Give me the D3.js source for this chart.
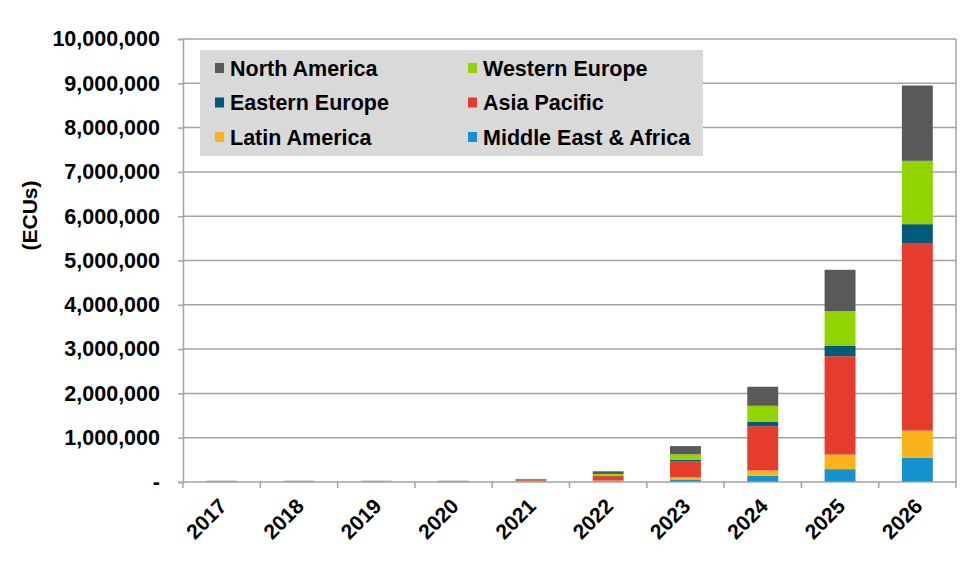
<!DOCTYPE html>
<html>
<head>
<meta charset="utf-8">
<script src="https://cdn.jsdelivr.net/npm/d3@7"></script>
<style>
  body { margin: 0; background: #fff; }
  svg text { font-family: "Liberation Sans", Arial, sans-serif; font-weight: bold; fill: #000; }
</style>
</head>
<body>
<svg id="chart" width="975" height="577"></svg>
<script>
// categories
const years = ["2017", "2018", "2019", "2020", "2021", "2022", "2023", "2024", "2025", "2026"];

// series values (ECUs)
const middleEastAfrica = [2000, 2000, 2000, 2000, 4000, 12000, 45000, 140000, 290000, 550000];
const latinAmerica     = [2000, 2000, 2000, 2000, 8000, 20000, 60000, 120000, 330000, 610000];
const asiaPacific      = [4000, 4000, 4000, 4000, 28000, 100000, 365000, 1000000, 2220000, 4220000];
const easternEurope    = [1000, 1000, 1000, 1000, 2000, 10000, 30000, 100000, 240000, 440000];
const westernEurope    = [6000, 6000, 6000, 6000, 12000, 40000, 125000, 360000, 780000, 1430000];
const northAmerica     = [12000, 12000, 12000, 12000, 16000, 60000, 185000, 430000, 930000, 1700000];

// stack order, bottom to top
const stackKeys = ["Middle East & Africa", "Latin America", "Asia Pacific", "Eastern Europe", "Western Europe", "North America"];
const seriesValues = [middleEastAfrica, latinAmerica, asiaPacific, easternEurope, westernEurope, northAmerica];

// legend order (row by row, two columns)
const legendKeys = ["North America", "Western Europe", "Eastern Europe", "Asia Pacific", "Latin America", "Middle East & Africa"];

// y ticks
const yTicks = [0, 1000000, 2000000, 3000000, 4000000, 5000000, 6000000, 7000000, 8000000, 9000000, 10000000];

const colors = {
    "North America": "#595959",
    "Western Europe": "#92d400",
    "Eastern Europe": "#005a78",
    "Asia Pacific": "#e63c2d",
    "Latin America": "#fbb31a",
    "Middle East & Africa": "#1391d0"
};

const margin = { top: 39, right: 19, bottom: 95, left: 183 };
const width = 975, height = 577;
const svg = d3.select("#chart");

// build rows for d3.stack
const table = years.map((yr, i) => {
    let row = { year: yr };
    stackKeys.forEach((k, j) => { row[k] = seriesValues[j][i]; });
    return row;
});
const stacked = d3.stack().keys(stackKeys)(table);

const x = d3.scaleBand()
    .domain(years)
    .range([margin.left, width - margin.right])
    .paddingInner(0.6)
    .paddingOuter(0.3);

const y = d3.scaleLinear()
    .domain([0, 10000000])
    .range([height - margin.bottom, margin.top]);

const gridColor = "#a3a3a3";

// gridlines
svg.append("g")
    .selectAll("line")
    .data(yTicks.filter(d => d > 0))
    .join("line")
    .attr("x1", margin.left)
    .attr("x2", width - margin.right)
    .attr("y1", d => y(d))
    .attr("y2", d => y(d))
    .attr("stroke", gridColor)
    .attr("stroke-width", 1.5);

// right border of plot
svg.append("line")
    .attr("x1", width - margin.right).attr("x2", width - margin.right)
    .attr("y1", y(10000000)).attr("y2", y(0))
    .attr("stroke", gridColor)
    .attr("stroke-width", 1.5);

// bars
svg.append("g")
    .selectAll("g")
    .data(stacked)
    .join("g")
    .attr("fill", d => colors[d.key])
    .selectAll("rect")
    .data(d => d)
    .join("rect")
    .attr("x", d => x(d.data.year))
    .attr("width", x.bandwidth())
    .attr("y", d => y(d[1]))
    .attr("height", d => y(d[0]) - y(d[1]));

// y axis
const yAxis = svg.append("g")
    .attr("transform", `translate(${margin.left},0)`)
    .call(d3.axisLeft(y)
        .tickValues(yTicks)
        .tickFormat(d => d === 0 ? "-" : d3.format(",")(d))
        .tickSize(5)
        .tickPadding(18));
yAxis.select(".domain").attr("stroke", gridColor).attr("stroke-width", 1.5);
yAxis.selectAll(".tick line").attr("stroke", gridColor).attr("stroke-width", 1.5);
yAxis.selectAll(".tick text")
    .attr("font-size", "21.5px")
    .attr("font-family", "Liberation Sans, Arial, sans-serif")
    .attr("font-weight", "bold")
    .attr("fill", "#000");

// x axis baseline and category boundary ticks
const step = x.step();
const slotStart = d => x(d) - (step - x.bandwidth()) / 2;
svg.append("line")
    .attr("x1", margin.left).attr("x2", width - margin.right)
    .attr("y1", y(0)).attr("y2", y(0))
    .attr("stroke", gridColor)
    .attr("stroke-width", 1.5);
svg.append("g")
    .selectAll("line")
    .data(years.concat(["end"]))
    .join("line")
    .attr("x1", (d, i) => i < years.length ? slotStart(d) : slotStart(years[years.length - 1]) + step)
    .attr("x2", (d, i) => i < years.length ? slotStart(d) : slotStart(years[years.length - 1]) + step)
    .attr("y1", y(0))
    .attr("y2", y(0) + 6)
    .attr("stroke", gridColor)
    .attr("stroke-width", 1.5);

// rotated year labels
svg.append("g")
    .selectAll("text")
    .data(years)
    .join("text")
    .attr("transform", d => `translate(${x(d) + x.bandwidth() / 2 - 4},${y(0) + 15}) rotate(-45)`)
    .attr("text-anchor", "end")
    .attr("dy", "0.7em")
    .attr("font-size", "21px")
    .text(d => d);

// y axis title
svg.append("text")
    .attr("transform", `translate(30,${(margin.top + height - margin.bottom) / 2 - 45}) rotate(-90)`)
    .attr("text-anchor", "middle")
    .attr("dy", "0.35em")
    .attr("font-size", "21px")
    .text("(ECUs)");

// legend
const legend = svg.append("g");
legend.append("rect")
    .attr("x", 200).attr("y", 50)
    .attr("width", 503).attr("height", 106)
    .attr("fill", "#d9d9d9");
const item = legend.selectAll("g.item")
    .data(legendKeys)
    .join("g")
    .attr("class", "item")
    .attr("transform", (d, i) => `translate(${i % 2 === 0 ? 215 : 468},${68 + Math.floor(i / 2) * 34.5})`);
item.append("rect")
    .attr("x", 0).attr("y", -5)
    .attr("width", 9).attr("height", 10)
    .attr("fill", d => colors[d]);
item.append("text")
    .attr("x", 15)
    .attr("dy", "0.36em")
    .attr("font-size", "21.5px")
    .text(d => d);
</script>
</body>
</html>
